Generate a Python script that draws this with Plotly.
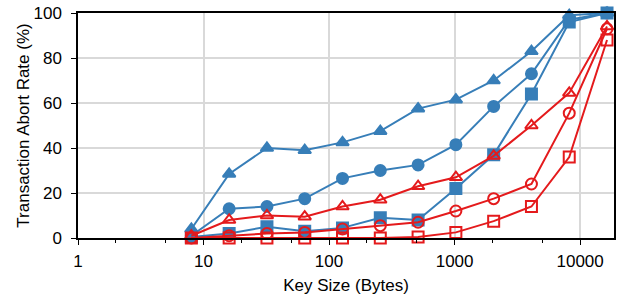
import plotly.graph_objects as go

key_sizes = [8, 16, 32, 64, 128, 256, 512, 1024, 2048, 4096, 8192, 16384]
blue_triangle = [4, 28.5, 40, 39, 42.5, 47.5, 57.5, 61.5, 70, 83, 99, 100]
blue_circle = [1, 13, 14, 17.5, 26.5, 30, 32.5, 41.5, 58.5, 73, 97, 100]
blue_square = [0.5, 2, 5, 3, 4.5, 9, 8, 22, 37, 64, 96, 100]
red_triangle = [1, 8, 10, 9.5, 14, 17, 23, 27, 36.5, 50, 64.5, 94]
red_circle = [0, 1, 2, 2.5, 4, 5.5, 7, 12, 17.5, 24, 55.5, 93]
red_square = [0, 0, 0, 0, 0, 0, 0.5, 2.5, 7.5, 14, 36, 88]

x_ticks = [1, 10, 100, 1000, 10000]
x_minor = [2, 5, 20, 50, 200, 500, 2000, 5000]
y_ticks = [0, 20, 40, 60, 80, 100]

BLUE = "#377eb8"
RED = "#e41a1c"

series = [
    (blue_triangle, BLUE, "triangle-up"),
    (blue_circle, BLUE, "circle"),
    (blue_square, BLUE, "square"),
    (red_triangle, RED, "triangle-up-open"),
    (red_circle, RED, "circle-open"),
    (red_square, RED, "square-open"),
]

fig = go.Figure()
for vals, col, sym in series:
    fig.add_trace(go.Scatter(
        x=key_sizes, y=vals, mode="lines+markers",
        line=dict(color=col, width=2),
        marker=dict(symbol=sym, size=11, color=col,
                    line=dict(color=col, width=2)),
        showlegend=False, cliponaxis=False,
    ))

fig.update_layout(
    width=621, height=301,
    margin=dict(l=78, r=7, t=13, b=63),
    plot_bgcolor="white", paper_bgcolor="white",
    font=dict(family="Liberation Sans, Arial, sans-serif", size=17, color="black"),
)
fig.update_xaxes(
    type="log", range=[0, 4.27], automargin=False,
    tickvals=x_ticks, ticktext=[str(v) for v in x_ticks],
    showgrid=True, gridcolor="#d9d9d9", gridwidth=1.5,
    showline=True, linecolor="black", linewidth=1.5, mirror=True,
    ticks="outside", ticklen=5, tickcolor="black",
    minor=dict(tickvals=x_minor, ticks="outside", ticklen=3, tickcolor="black", showgrid=False),
    title=dict(text="Key Size (Bytes)", font=dict(size=17), standoff=9),
    tickfont=dict(size=17), zeroline=False, ticklabelstandoff=2,
)
fig.update_yaxes(
    range=[0, 100], automargin=False,
    tickvals=y_ticks,
    showgrid=True, gridcolor="#d9d9d9", gridwidth=1.5,
    showline=True, linecolor="black", linewidth=1.5, mirror=True,
    ticks="outside", ticklen=5, tickcolor="black",
    title=dict(text="Transaction Abort Rate (%)", font=dict(size=17), standoff=0),
    tickfont=dict(size=17), zeroline=False, ticklabelstandoff=6,
    ticklabeloverflow="allow",
)

fig.write_html("out.html", config={"displayModeBar": False},
               post_script="document.body.style.margin='0px';")
